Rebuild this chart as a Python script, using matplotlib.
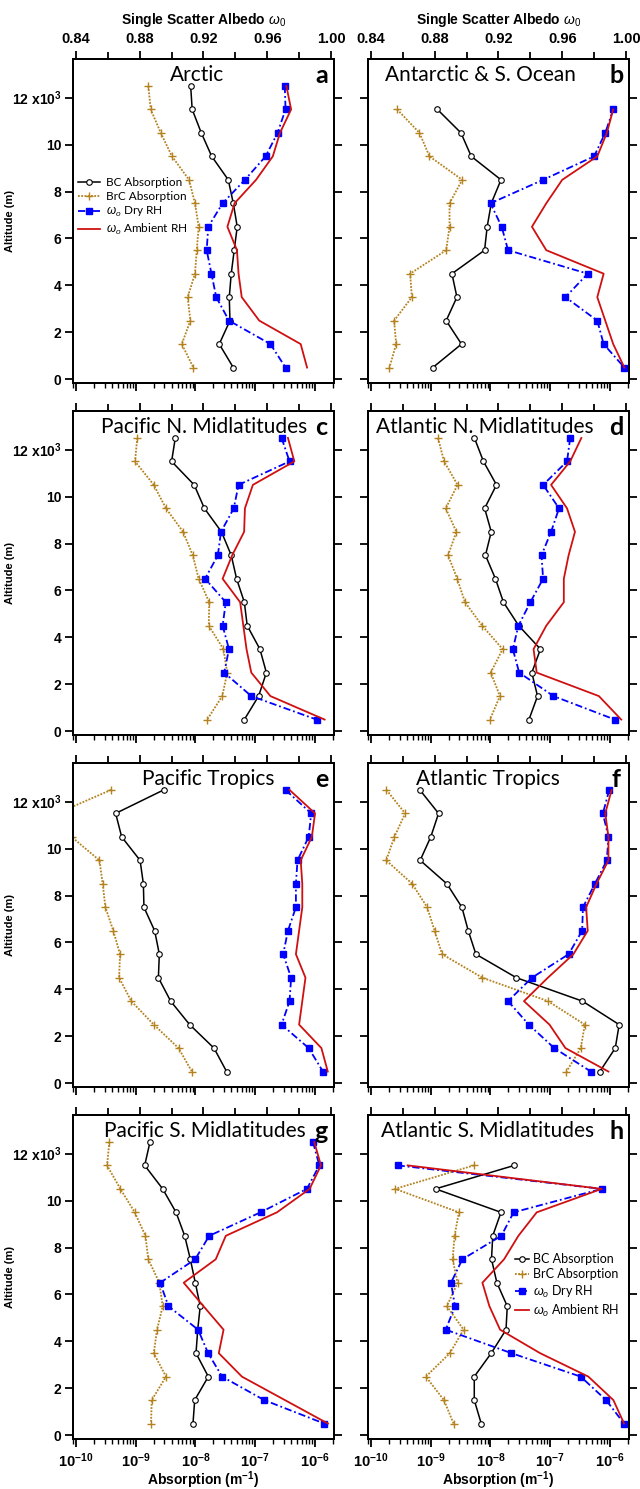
import matplotlib
matplotlib.use('Agg')
import matplotlib.pyplot as plt
from matplotlib.ticker import LogLocator, FixedLocator, NullFormatter
import numpy as np

plt.rcParams['font.family'] = ['Liberation Sans', 'DejaVu Sans']
plt.rcParams['mathtext.fontset'] = 'custom'
plt.rcParams['mathtext.rm'] = 'Liberation Sans'
plt.rcParams['mathtext.it'] = 'Liberation Sans:italic'
plt.rcParams['mathtext.bf'] = 'Liberation Sans:bold'

# altitude bins (m), top to bottom
alt = [12500, 11500, 10500, 9500, 8500, 7500, 6500, 5500, 4500, 3500, 2500, 1500, 500]
alt_low = alt[1:]  # panels without the top bin

# a - Arctic
arctic_bc = [8.3e-9, 8.8e-9, 1.25e-8, 1.87e-8, 3.54e-8, 4.3e-8, 5.0e-8, 4.45e-8, 3.97e-8, 3.68e-8, 3.78e-8, 2.5e-8, 4.3e-8]
arctic_brc = [1.62e-9, 1.78e-9, 2.62e-9, 4.04e-9, 7.8e-9, 9.8e-9, 1.13e-8, 1.05e-8, 9.8e-9, 7.4e-9, 8.2e-9, 5.9e-9, 9.2e-9]
arctic_dry = [0.971, 0.9715, 0.9665, 0.959, 0.946, 0.932, 0.923, 0.922, 0.925, 0.928, 0.936, 0.962, 0.9715]
arctic_amb = [0.972, 0.975, 0.968, 0.9635, 0.953, 0.9395, 0.935, 0.941, 0.942, 0.944, 0.955, 0.981, 0.985]

# b - Antarctic & S. Ocean (starts at 11.5 km)
antarc_bc = [1.29e-9, 3.2e-9, 4.76e-9, 1.5e-8, 1.03e-8, 8.8e-9, 7.96e-9, 2.26e-9, 2.74e-9, 1.81e-9, 3.27e-9, 1.08e-9]
antarc_brc = [2.73e-10, 6.46e-10, 9.5e-10, 3.36e-9, 2.06e-9, 2.06e-9, 1.81e-9, 4.51e-10, 4.82e-10, 2.43e-10, 2.63e-10, 2.03e-10]
antarc_dry = [0.992, 0.987, 0.980, 0.948, 0.915, 0.922, 0.926, 0.976, 0.962, 0.982, 0.986, 0.999]
antarc_amb = [0.992, 0.988, 0.982, 0.960, 0.950, 0.941, 0.950, 0.986, 0.982, 0.987, 0.992, 0.999]

# c - Pacific N. Midlatitudes
pacn_bc = [4.59e-9, 3.98e-9, 9.5e-9, 1.41e-8, 2.72e-8, 3.97e-8, 4.88e-8, 6.58e-8, 7.35e-8, 1.2e-7, 1.54e-7, 1.14e-7, 6.58e-8]
pacn_brc = [1.06e-9, 9.7e-10, 2.0e-9, 3.2e-9, 6.2e-9, 9.0e-9, 1.13e-8, 1.7e-8, 1.67e-8, 2.94e-8, 3.4e-8, 2.81e-8, 1.57e-8]
pacn_dry = [0.969, 0.974, 0.942, 0.939, 0.931, 0.929, 0.921, 0.934, 0.932, 0.936, 0.933, 0.950, 0.991]
pacn_amb = [0.973, 0.977, 0.951, 0.946, 0.9455, 0.938, 0.932, 0.943, 0.945, 0.947, 0.950, 0.962, 0.996]

# d - Atlantic N. Midlatitudes
atln_bc = [5.38e-9, 7.62e-9, 1.26e-8, 7.98e-9, 1.03e-8, 8.24e-9, 1.21e-8, 1.65e-8, 2.97e-8, 6.87e-8, 4.92e-8, 6.14e-8, 4.41e-8]
atln_brc = [1.32e-9, 1.67e-9, 2.81e-9, 1.78e-9, 2.68e-9, 1.95e-9, 2.77e-9, 3.74e-9, 7.27e-9, 1.6e-8, 1.01e-8, 1.44e-8, 9.8e-9]
atln_dry = [0.965, 0.963, 0.948, 0.958, 0.953, 0.947, 0.948, 0.940, 0.9325, 0.929, 0.933, 0.9545, 0.993]
atln_amb = [0.972, 0.965, 0.953, 0.963, 0.968, 0.964, 0.961, 0.961, 0.950, 0.942, 0.944, 0.983, 0.997]

# e - Pacific Tropics
pact_bc = [2.93e-9, 4.6e-10, 5.8e-10, 1.18e-9, 1.34e-9, 1.37e-9, 2.07e-9, 2.48e-9, 2.39e-9, 3.84e-9, 7.98e-9, 2.04e-8, 3.32e-8]
pact_brc = [3.85e-10, 4.8e-11, 8.4e-11, 2.46e-10, 2.79e-10, 3.1e-10, 4.2e-10, 5.45e-10, 5.25e-10, 8.4e-10, 2.0e-9, 5.2e-9, 8.7e-9]
pact_dry = [0.9715, 0.9876, 0.986, 0.979, 0.978, 0.978, 0.973, 0.970, 0.975, 0.974, 0.969, 0.986, 0.995]
pact_amb = [0.974, 0.990, 0.988, 0.981, 0.982, 0.982, 0.980, 0.978, 0.984, 0.982, 0.980, 0.994, 0.998]

# f - Atlantic Tropics
atlt_bc = [6.56e-10, 1.35e-9, 1.0e-9, 6.64e-10, 1.86e-9, 3.32e-9, 4.24e-9, 5.7e-9, 2.71e-8, 3.47e-7, 1.43e-6, 1.23e-6, 6.78e-7]
atlt_brc = [1.81e-10, 3.72e-10, 2.46e-10, 1.79e-10, 4.88e-10, 8.7e-10, 1.16e-9, 1.55e-9, 7.3e-9, 9.2e-8, 3.8e-7, 3.25e-7, 1.87e-7]
atlt_dry = [0.9895, 0.9855, 0.989, 0.988, 0.9805, 0.973, 0.9725, 0.964, 0.941, 0.926, 0.939, 0.955, 0.978]
atlt_amb = [0.991, 0.987, 0.989, 0.989, 0.9815, 0.975, 0.976, 0.967, 0.951, 0.936, 0.952, 0.962, 0.989]

# g - Pacific S. Midlatitudes
pacs_bc = [1.73e-9, 1.41e-9, 2.82e-9, 4.72e-9, 6.59e-9, 8.2e-9, 9.93e-9, 1.2e-8, 1.09e-8, 1.02e-8, 1.64e-8, 9.7e-9, 9.08e-9]
pacs_brc = [3.61e-10, 3.3e-10, 5.52e-10, 9.6e-10, 1.45e-9, 1.62e-9, 2.48e-9, 2.82e-9, 2.27e-9, 2.0e-9, 3.21e-9, 1.85e-9, 1.8e-9]
pacs_dry = [0.9887, 0.9927, 0.9849, 0.9558, 0.9236, 0.9148, 0.8928, 0.898, 0.9166, 0.9229, 0.9317, 0.9581, 0.9958]
pacs_amb = [0.9895, 0.9937, 0.9866, 0.9661, 0.934, 0.9277, 0.9076, 0.920, 0.9326, 0.9296, 0.9441, 0.9711, 0.9981]

# h - Atlantic S. Midlatitudes (starts at 11.5 km)
atls_bc = [2.51e-8, 1.2e-9, 1.5e-8, 1.09e-8, 1.04e-8, 1.28e-8, 1.91e-8, 1.82e-8, 1.03e-8, 5.35e-9, 5.35e-9, 7.0e-9]
atls_brc = [5.28e-9, 2.53e-10, 2.96e-9, 2.5e-9, 2.32e-9, 2.81e-9, 1.86e-9, 3.54e-9, 2.09e-9, 8.26e-10, 1.66e-9, 2.41e-9]
atls_dry = [0.8567, 0.9848, 0.9295, 0.9218, 0.8973, 0.8902, 0.8927, 0.8869, 0.9281, 0.9716, 0.9875, 0.9988]
atls_amb = [0.863, 0.9848, 0.944, 0.9325, 0.9235, 0.9099, 0.9143, 0.921, 0.9461, 0.9764, 0.9921, 0.9988]

titles = ['Arctic', 'Antarctic & S. Ocean', 'Pacific N. Midlatitudes', 'Atlantic N. Midlatitudes',
          'Pacific Tropics', 'Atlantic Tropics', 'Pacific S. Midlatitudes', 'Atlantic S. Midlatitudes']
letters = ['a', 'b', 'c', 'd', 'e', 'f', 'g', 'h']
title_x = [0.478, 0.430, 0.503, 0.448, 0.518, 0.461, 0.507, 0.461]

albedo_ticks = [0.84, 0.88, 0.92, 0.96, 1.00]
absorb_ticks = [1e-10, 1e-9, 1e-8, 1e-7, 1e-6]
alt_ticks = [0, 2000, 4000, 6000, 8000, 10000, 12000]
alt_labels = ['0', '2', '4', '6', '8', '10', r'12 x10$^{\mathbf{3}}$']
legend_labels = ['BC Absorption', 'BrC Absorption', r'$\omega_o$ Dry RH', r'$\omega_o$ Ambient RH']

BRC_COLOR = '#B4821E'
DRY_COLOR = '#0000FF'
AMB_COLOR = '#D01010'


def draw_panel(ax, alts, bc, brc, dry, amb, idx):
    col = idx % 2
    row = idx // 2
    ax.set_xscale('log')
    ax.set_xlim(10 ** -10.06, 10 ** -5.68)
    ax.set_ylim(-145, 13660)
    l_bc, = ax.plot(bc, alts, color='black', lw=1.1, marker='o', ms=4, mfc='white', mec='black', mew=0.8)
    l_brc, = ax.plot(brc, alts, color=BRC_COLOR, lw=1.3, ls=(0, (1, 0.8)), marker='+', ms=5.5, mew=1.0)

    top = ax.twiny()
    top.set_xlim(0.8378, 1.0019)
    l_dry, = top.plot(dry, alts, color=DRY_COLOR, lw=1.3, ls=(0, (4, 1.6, 1, 1.6)), marker='s', ms=4, mec=DRY_COLOR)
    l_amb, = top.plot(amb, alts, color=AMB_COLOR, lw=1.3)

    # bottom (absorption) axis
    ax.set_xticks(absorb_ticks)
    ax.xaxis.set_minor_locator(LogLocator(base=10, subs=np.arange(2, 10), numticks=20))
    ax.xaxis.set_minor_formatter(NullFormatter())
    if row == 3:
        ax.set_xticklabels([r'$\mathbf{10^{%d}}$' % int(np.log10(t)) for t in absorb_ticks], fontsize=10.5)
        ax.text(0.5, -0.127, r'Absorption (m$^{\mathbf{-1}}$)', transform=ax.transAxes,
                ha='center', va='center', fontsize=10, fontweight='bold')
    else:
        ax.set_xticklabels([])
    ax.tick_params(axis='x', which='major', direction='out', length=6, width=1.3, pad=3)
    ax.tick_params(axis='x', which='minor', direction='out', length=3.5, width=1.0)

    # altitude axis
    ax.set_yticks(alt_ticks)
    ax.tick_params(axis='y', direction='out', length=6, width=1.3, left=True, right=True, pad=2)
    if col == 0:
        ax.set_yticklabels(alt_labels, fontsize=10, fontweight='bold')
        ax.set_ylabel('Altitude (m)', fontsize=8, fontweight='bold')
        ax.yaxis.set_label_coords(-0.22, 0.5)
    else:
        ax.set_yticklabels([])

    # top (albedo) axis
    top.xaxis.set_major_locator(FixedLocator(albedo_ticks))
    top.xaxis.set_minor_locator(FixedLocator([0.86, 0.90, 0.94, 0.98]))
    top.tick_params(axis='x', which='major', direction='out', length=6, width=1.3, pad=3)
    top.tick_params(axis='x', which='minor', direction='out', length=5, width=1.3)
    if row == 0:
        top.set_xticklabels(['%.2f' % t for t in albedo_ticks], fontsize=10.5, fontweight='bold')
        ax.text(0.5, 1.119, r'Single Scatter Albedo $\omega_{\mathit{0}}$', transform=ax.transAxes,
                ha='center', va='center', fontsize=10, fontweight='bold')
    else:
        top.set_xticklabels([])

    for a in (ax, top):
        for s in a.spines.values():
            s.set_linewidth(1.4)

    top.text(title_x[idx], 0.932, titles[idx], transform=ax.transAxes, ha='center', va='baseline',
             fontsize=15, family=['Lato', 'DejaVu Sans'])
    top.text(0.952, 0.926, letters[idx], transform=ax.transAxes, ha='center', va='baseline',
             fontsize=18, fontweight='bold', family=['Lato', 'DejaVu Sans'])
    return [l_bc, l_brc, l_dry, l_amb], top


fig = plt.figure(figsize=(6.4, 14.89), dpi=100)
W, H = 640.0, 1489.0
col_left = [72.5, 367.5]
row_top = [58.7, 410.7, 762.7, 1114.7]
panel_w, panel_h = 261.5, 324.0

data = [
    (alt, arctic_bc, arctic_brc, arctic_dry, arctic_amb),
    (alt_low, antarc_bc, antarc_brc, antarc_dry, antarc_amb),
    (alt, pacn_bc, pacn_brc, pacn_dry, pacn_amb),
    (alt, atln_bc, atln_brc, atln_dry, atln_amb),
    (alt, pact_bc, pact_brc, pact_dry, pact_amb),
    (alt, atlt_bc, atlt_brc, atlt_dry, atlt_amb),
    (alt, pacs_bc, pacs_brc, pacs_dry, pacs_amb),
    (alt_low, atls_bc, atls_brc, atls_dry, atls_amb),
]

for i, (alts, bc, brc, dry, amb) in enumerate(data):
    r, c = i // 2, i % 2
    rect = [col_left[c] / W, 1 - (row_top[r] + panel_h) / H, panel_w / W, panel_h / H]
    ax = fig.add_axes(rect)
    handles, top = draw_panel(ax, alts, bc, brc, dry, amb, i)
    if i == 0:
        top.legend(handles, legend_labels, loc='center left', bbox_to_anchor=(0.02, 0.542),
                   bbox_transform=ax.transAxes, frameon=False, borderpad=0, borderaxespad=0,
                   handlelength=1.9, handletextpad=0.5, labelspacing=0.25,
                   prop={'family': ['Lato', 'DejaVu Sans'], 'size': 8.5})
    if i == 7:
        top.legend(handles, legend_labels, loc='center left', bbox_to_anchor=(0.564, 0.471),
                   bbox_transform=ax.transAxes, frameon=False, borderpad=0, borderaxespad=0,
                   handlelength=1.15, handletextpad=0.3, labelspacing=0.25,
                   prop={'family': ['Lato', 'DejaVu Sans'], 'size': 9})

fig.savefig('out.png', dpi=100)
